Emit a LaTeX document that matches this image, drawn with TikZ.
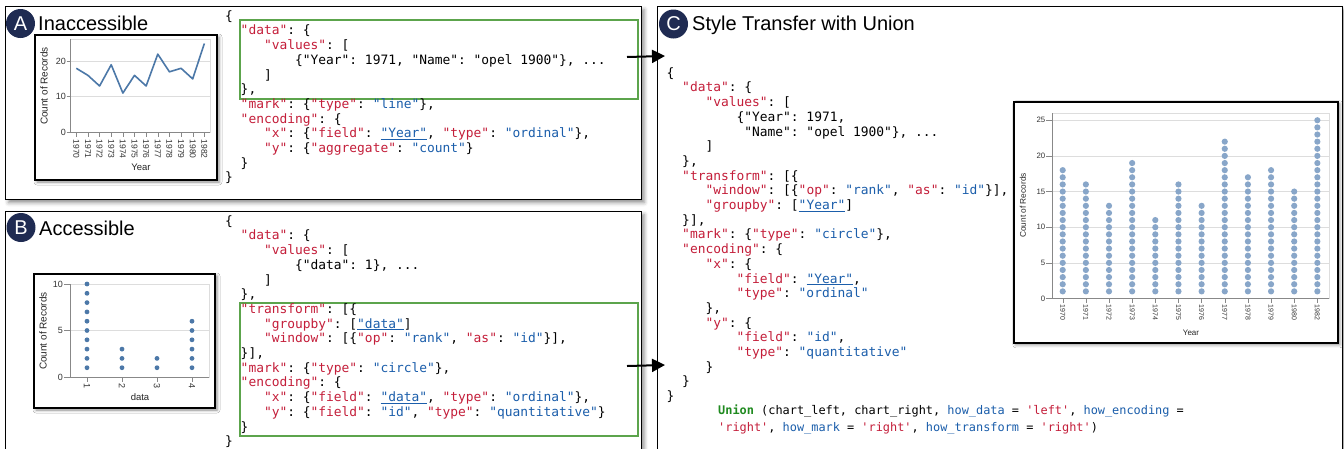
\documentclass[tikz,border=0pt]{standalone}
\usepackage{fontspec}
\setmainfont{Liberation Sans}
\setmonofont{DejaVu Sans Mono}
\usetikzlibrary{arrows.meta,shadows.blur}

\definecolor{keyred}{HTML}{C41E3A}
\definecolor{valblue}{HTML}{1B5EAB}
\definecolor{boxgreen}{HTML}{5CA44C}
\definecolor{uniongreen}{HTML}{1F8A1F}
\definecolor{badgenavy}{HTML}{1F2B52}
\definecolor{steel}{HTML}{4C78A8}
\definecolor{dotblue}{HTML}{88A6C9}
\definecolor{gridgrey}{HTML}{DDDDDD}
\definecolor{axisgrey}{HTML}{888888}

% monospace cell width of the code font
\newlength\cw
\setlength\cw{7.766pt}
\newcommand\jk[1]{\textcolor{keyred}{"#1"}}
\newcommand\jv[1]{\textcolor{valblue}{"#1"}}
\newcommand\ju[1]{\textcolor{valblue}{\underline{"#1"}}}
\newcommand\ind[1]{\hspace*{#1\cw}}
\newcommand\fs[1]{\fontsize{#1}{#1}\selectfont}

\tikzset{
  panel/.style={draw=black, line width=1.2pt, fill=white, inner sep=0pt, anchor=north west,
    blur shadow={shadow xshift=3pt, shadow yshift=-3pt, shadow blur radius=4pt, shadow opacity=45}},
  chartbox/.style={draw=black, line width=2pt, fill=white, inner sep=0pt, anchor=north west,
    blur shadow={shadow xshift=2pt, shadow yshift=-2pt, shadow blur radius=3pt, shadow opacity=45}},
  greenbox/.style={draw=boxgreen, line width=2pt, inner sep=0pt, anchor=north west},
  badge/.style={circle, fill=badgenavy, text=white, minimum size=29pt, inner sep=0pt, font=\fs{20}},
  paneltitle/.style={anchor=base west, inner sep=0pt, font=\fs{20}},
  codeblock/.style={anchor=north west, inner sep=0pt, align=left, font=\ttfamily\fontsize{12.9}{14.7}\selectfont},
  ticklbl/.style={inner sep=0pt, text=black!80},
  axtitle/.style={inner sep=0pt, text=black!85},
  arr/.style={line width=2pt, -{Triangle[length=13pt,width=13pt]}},
}

\begin{document}
\begin{tikzpicture}[x=1pt,y=-1pt]
\useasboundingbox (0,0) rectangle (1344,448);

% ---------- panels ----------
\node[panel, minimum width=635.5pt, minimum height=193pt] (panelA) at (5,6) {};
\node[panel, minimum width=635.5pt, minimum height=241pt] (panelB) at (5,211) {};
\node[panel, minimum width=684.5pt, minimum height=446pt] (panelC) at (657,6) {};

\node[badge] (badgeA) at (20.5,23.5) {A};
\node[paneltitle] (titleA) at (38,30) {Inaccessible};
\node[badge] (badgeB) at (21,227.5) {B};
\node[paneltitle] (titleB) at (39,235) {Accessible};
\node[badge] (badgeC) at (673.5,24) {C};
\node[paneltitle] (titleC) at (692,30) {Style Transfer with Union};

% ---------- chart A: line chart ----------
\node[chartbox, minimum width=182pt, minimum height=145pt] (chartA) at (34,34) {};
\draw[gridgrey] (70,39) rectangle (210,132);
\foreach \v in {10,20} \draw[gridgrey] (70,{132-3.54*\v}) -- (210,{132-3.54*\v});
\draw[axisgrey] (70,39) -- (70,132) -- (210,132);
\foreach \v in {0,10,20} {
  \draw[axisgrey] (66.5,{132-3.54*\v}) -- (70,{132-3.54*\v});
  \node[ticklbl, anchor=east, font=\fs{9}] (aytick\v) at (66,{132-3.54*\v}) {\v};
}
\foreach \yr [count=\i from 0] in {1970,1971,1972,1973,1974,1975,1976,1977,1978,1979,1980,1982} {
  \draw[axisgrey] ({76.3+11.64*\i},132) -- ({76.3+11.64*\i},137);
  \node[ticklbl, rotate=-90, anchor=west, font=\fs{8.5}] (axtick\i) at ({76.3+11.64*\i},139.5) {\yr};
}
\draw[steel, line width=1.6pt, line join=round]
  (76.3,68.28) -- (87.94,75.36) -- (99.58,85.98) -- (111.22,64.74) -- (122.86,93.06)
  -- (134.5,75.36) -- (146.14,85.98) -- (157.78,54.12) -- (169.42,71.82)
  -- (181.06,68.28) -- (192.7,78.9) -- (204.34,43.5);
\node[axtitle, font=\fs{9.5}] (axtitleA) at (141,167.5) {Year};
\node[axtitle, rotate=90, font=\fs{10}] (aytitleA) at (44,86) {Count of Records};

% ---------- chart B: dot chart ----------
\node[chartbox, minimum width=181pt, minimum height=134pt] (chartB) at (33,273) {};
\draw[gridgrey] (70,284) rectangle (209,377);
\draw[gridgrey] (70,330.5) -- (209,330.5);
\draw[axisgrey] (70,284) -- (70,377) -- (209,377);
\foreach \v in {0,5,10} {
  \draw[axisgrey] (64,{377-9.3*\v}) -- (70,{377-9.3*\v});
  \node[ticklbl, anchor=east, font=\fs{9}] (bytick\v) at (63,{377-9.3*\v}) {\v};
}
\foreach \n [count=\i from 0] in {10,3,2,6} {
  \draw[axisgrey] ({87+35*\i},377) -- ({87+35*\i},382);
  \node[ticklbl, rotate=-90, anchor=west, font=\fs{9}] (bxtick\i) at ({87+35*\i},383.5) {\the\numexpr\i+1\relax};
  \foreach \k in {1,...,\n}
    \fill[steel] ({87+35*\i},{377-9.3*\k}) circle[radius=2.4pt];
}
\node[axtitle, font=\fs{9.5}] (bxtitle) at (140,397.5) {data};
\node[axtitle, rotate=90, font=\fs{10}] (bytitle) at (43,331) {Count of Records};

% ---------- chart C: stacked dots per year ----------
\node[chartbox, line width=1.6pt, minimum width=324pt, minimum height=241pt] (chartC) at (1013,101) {};
\draw[gridgrey] (1052,113) rectangle (1329,298.5);
\foreach \v in {5,10,15,20,25} \draw[gridgrey] (1052,{298.5-7.13*\v}) -- (1329,{298.5-7.13*\v});
\draw[axisgrey] (1052,113) -- (1052,298.5) -- (1329,298.5);
\foreach \v in {0,5,10,15,20,25} {
  \draw[axisgrey] (1046,{298.5-7.13*\v}) -- (1052,{298.5-7.13*\v});
  \node[ticklbl, anchor=east, font=\fs{7.8}] (cytick\v) at (1045.5,{298.5-7.13*\v}) {\v};
}
\foreach \yr/\n [count=\i from 0] in {1970/18,1971/16,1972/13,1973/19,1974/11,1975/16,1976/13,1977/22,1978/17,1979/18,1980/15,1982/25} {
  \draw[axisgrey] ({1062.7+23.15*\i},298.5) -- ({1062.7+23.15*\i},303);
  \node[ticklbl, rotate=-90, anchor=west, font=\fs{7}] (cxtick\i) at ({1062.7+23.15*\i},304.5) {\yr};
  \foreach \k in {1,...,\n}
    \fill[dotblue] ({1062.7+23.15*\i},{298.5-7.13*\k}) circle[radius=3.1pt];
}
\node[axtitle, font=\fs{8}] (cxtitle) at (1191,333) {Year};
\node[axtitle, rotate=90, font=\fs{8.3}] (cytitle) at (1023,205.5) {Count of Records};

% ---------- highlighted specification parts ----------
\node[greenbox, minimum width=398pt, minimum height=79pt] (greenA) at (239,19) {};
\node[greenbox, minimum width=398pt, minimum height=133pt] (greenB) at (239,302) {};

% ---------- specifications ----------
\node[codeblock] (codeA) at (225,9.5) {\rule{0pt}{10.5pt}\{\\
\ind{2}\jk{data}: \{\\
\ind{5}\jk{values}: [\\
\ind{9}\{"Year": 1971, "Name": "opel 1900"\}, ...\\
\ind{5}]\\
\ind{2}\},\\
\ind{2}\jk{mark}: \{\jk{type}: \jv{line}\},\\
\ind{2}\jk{encoding}: \{\\
\ind{5}\jk{x}: \{\jk{field}: \ju{Year}, \jk{type}: \jv{ordinal}\},\\
\ind{5}\jk{y}: \{\jk{aggregate}: \jv{count}\}\\
\ind{2}\}\\
\}};

\node[codeblock] (codeB) at (225,214.5) {\rule{0pt}{10.5pt}\{\\
\ind{2}\jk{data}: \{\\
\ind{5}\jk{values}: [\\
\ind{9}\{"data": 1\}, ...\\
\ind{5}]\\
\ind{2}\},\\
\ind{2}\jk{transform}: [\{\\
\ind{5}\jk{groupby}: [\ju{data}]\\
\ind{5}\jk{window}: [\{\jk{op}: \jv{rank}, \jk{as}: \jv{id}\}],\\
\ind{2}\}],\\
\ind{2}\jk{mark}: \{\jk{type}: \jv{circle}\},\\
\ind{2}\jk{encoding}: \{\\
\ind{5}\jk{x}: \{\jk{field}: \ju{data}, \jk{type}: \jv{ordinal}\},\\
\ind{5}\jk{y}: \{\jk{field}: \jv{id}, \jk{type}: \jv{quantitative}\}\\
\ind{2}\}\\
\}};

\node[codeblock] (codeC) at (666.5,66.5) {\rule{0pt}{10.5pt}\{\\
\ind{2}\jk{data}: \{\\
\ind{5}\jk{values}: [\\
\ind{9}\{"Year": 1971,\\
\ind{10}"Name": "opel 1900"\}, ...\\
\ind{5}]\\
\ind{2}\},\\
\ind{2}\jk{transform}: [\{\\
\ind{5}\jk{window}: [\{\jk{op}: \jv{rank}, \jk{as}: \jv{id}\}],\\
\ind{5}\jk{groupby}: [\ju{Year}]\\
\ind{2}\}],\\
\ind{2}\jk{mark}: \{\jk{type}: \jv{circle}\},\\
\ind{2}\jk{encoding}: \{\\
\ind{5}\jk{x}: \{\\
\ind{9}\jk{field}: \ju{Year},\\
\ind{9}\jk{type}: \jv{ordinal}\\
\ind{5}\},\\
\ind{5}\jk{y}: \{\\
\ind{9}\jk{field}: \jv{id},\\
\ind{9}\jk{type}: \jv{quantitative}\\
\ind{5}\}\\
\ind{2}\}\\
\}};

\node[anchor=north west, inner sep=0pt, align=left, font=\ttfamily\fontsize{11.9}{17}\selectfont] (union) at (718,404) {\rule{0pt}{10pt}\textcolor{uniongreen}{\textbf{Union}} (chart\_left, chart\_right, \textcolor{valblue}{how\_data} = \textcolor{keyred}{'left'}, \textcolor{valblue}{how\_encoding} =\\
\textcolor{keyred}{'right'}, \textcolor{valblue}{how\_mark} = \textcolor{keyred}{'right'}, \textcolor{valblue}{how\_transform} = \textcolor{keyred}{'right'})};

% ---------- transfer arrows ----------
\coordinate (inA) at (665,56);
\coordinate (inB) at (665,365);
\draw[arr] ([xshift=-12pt,yshift=2.5pt]greenA.east) -- (inA);
\draw[arr] ([xshift=-12pt,yshift=3.5pt]greenB.east) -- (inB);
\end{tikzpicture}
\end{document}
